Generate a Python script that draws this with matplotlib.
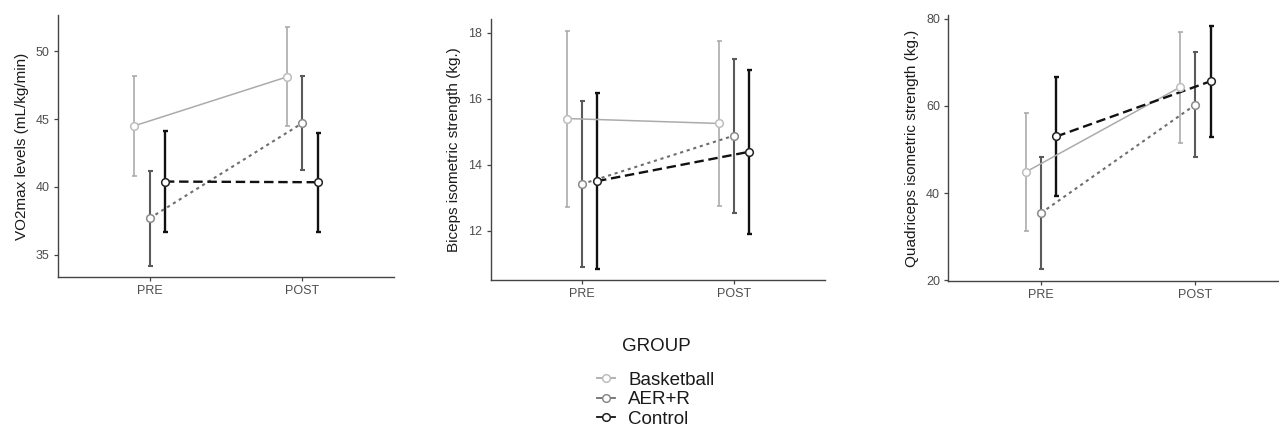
import matplotlib
matplotlib.use("Agg")
import matplotlib.pyplot as plt
from matplotlib.lines import Line2D
import numpy as np

plt.rcParams['font.family'] = ['Liberation Sans', 'DejaVu Sans']

times = ["PRE", "POST"]
groups = ["Basketball", "AER+R", "Control"]

vo2_mean = {"Basketball": [44.5, 48.1], "AER+R": [37.7, 44.7], "Control": [40.4, 40.35]}
vo2_err = {"Basketball": [3.7, 3.65], "AER+R": [3.5, 3.45], "Control": [3.7, 3.65]}

bic_mean = {"Basketball": [15.4, 15.25], "AER+R": [13.41, 14.88], "Control": [13.5, 14.39]}
bic_err = {"Basketball": [2.67, 2.49], "AER+R": [2.52, 2.34], "Control": [2.67, 2.49]}

quad_mean = {"Basketball": [44.8, 64.3], "AER+R": [35.4, 60.3], "Control": [53.0, 65.7]}
quad_err = {"Basketball": [13.6, 12.7], "AER+R": [12.9, 12.0], "Control": [13.7, 12.75]}

panels = [
    dict(mean=vo2_mean, err=vo2_err, ylabel="VO2max levels (mL/kg/min)",
         ylim=(33.38, 52.65), yticks=[35, 40, 45, 50], fmt="{:d}",
         pos=[58 / 1279, 1 - 277 / 430, (394 - 58) / 1279, (277 - 15) / 430]),
    dict(mean=bic_mean, err=bic_err, ylabel="Biceps isometric strength (kg.)",
         ylim=(10.5, 18.42), yticks=[12, 14, 16, 18], fmt="{:d}",
         pos=[490.7 / 1279, 1 - 280 / 430, (825 - 490.7) / 1279, (280 - 19) / 430]),
    dict(mean=quad_mean, err=quad_err, ylabel="Quadriceps isometric strength (kg.)",
         ylim=(19.8, 80.9), yticks=[20, 40, 60, 80], fmt="{:d}",
         pos=[948.3 / 1279, 1 - 281 / 430, (1288 - 948.3) / 1279, (281 - 15) / 430]),
]

line_col = {"Basketball": "#ABABAB", "AER+R": "#6E6E6E", "Control": "#111111"}
err_col = {"Basketball": "#ABABAB", "AER+R": "#5A5A5A", "Control": "#111111"}
edge_col = {"Basketball": "#BDBDBD", "AER+R": "#8A8A8A", "Control": "#222222"}
ls = {"Basketball": "-", "AER+R": (0, (1.5, 1.8)), "Control": (0, (4, 2))}
lw = {"Basketball": 1.1, "AER+R": 1.5, "Control": 1.7}
elw = {"Basketball": 1.2, "AER+R": 1.5, "Control": 1.7}
offs = {"Basketball": -0.1, "AER+R": 0.0, "Control": 0.1}

fig = plt.figure(figsize=(12.79, 4.30), dpi=100)

for p in panels:
    ax = fig.add_axes(p["pos"])
    x = np.arange(1, len(times) + 1)
    for g in groups:
        xx = x + offs[g]
        m = p["mean"][g]
        e = p["err"][g]
        ax.errorbar(xx, m, yerr=e, fmt="none", ecolor=err_col[g], elinewidth=elw[g],
                    capsize=1.8, capthick=elw[g], zorder=2)
        ax.plot(xx, m, color=line_col[g], linestyle=ls[g], linewidth=lw[g], zorder=3)
        ax.plot(xx, m, linestyle="none", marker="o", markersize=5.5,
                markerfacecolor="white", markeredgecolor=edge_col[g],
                markeredgewidth=1.1, zorder=4)
    ax.set_xlim(0.4, 2.6)
    ax.set_ylim(*p["ylim"])
    ax.set_xticks(x)
    ax.set_xticklabels(times)
    ax.set_yticks(p["yticks"])
    ax.set_yticklabels([p["fmt"].format(t) for t in p["yticks"]])
    ax.set_ylabel(p["ylabel"], fontsize=11, color="#1A1A1A", labelpad=5)
    for s in ["top", "right"]:
        ax.spines[s].set_visible(False)
    for s in ["left", "bottom"]:
        ax.spines[s].set_color("#444444")
        ax.spines[s].set_linewidth(1.0)
    ax.tick_params(axis="both", colors="#444444", labelcolor="#4D4D4D",
                   labelsize=9, length=3, width=0.9, pad=3)
    ax.patch.set_alpha(0)

handles = []
for g in groups:
    handles.append(Line2D([0], [0], color=line_col[g], linestyle="-", linewidth=1.3,
                          marker="o", markersize=5.5, markerfacecolor="white",
                          markeredgecolor=edge_col[g], markeredgewidth=1.1))

leg = fig.legend(handles, groups, title="GROUP", loc="center",
                 bbox_to_anchor=(656 / 1279, 1 - 383 / 430), frameon=False,
                 fontsize=13.5, title_fontsize=13.5, handlelength=0.95,
                 handletextpad=0.7, labelspacing=0.12)
for t in leg.get_texts():
    t.set_color("#1A1A1A")
leg.get_title().set_color("#1A1A1A")
leg._legend_box.sep = 12

fig.savefig("out.png", dpi=100)
